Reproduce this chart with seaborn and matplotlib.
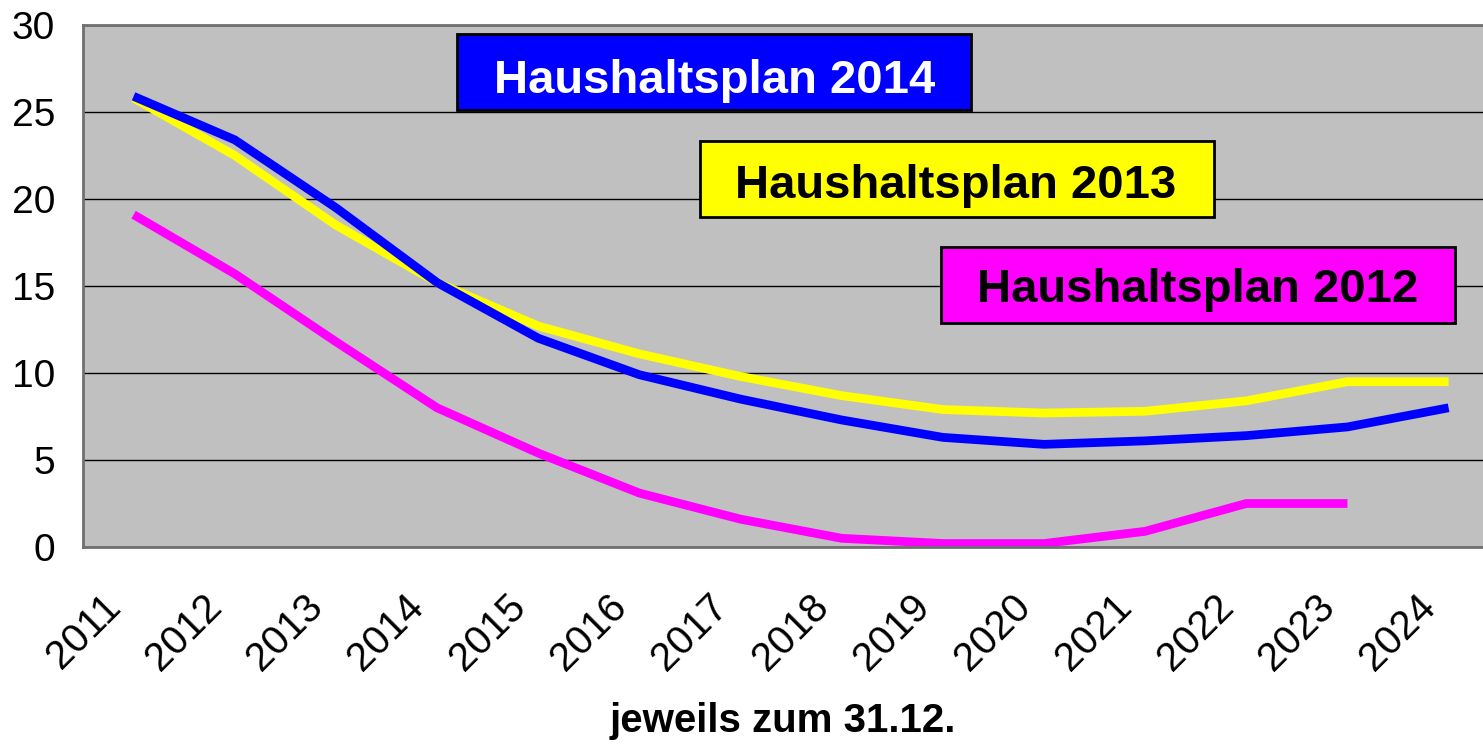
import seaborn as sns
import matplotlib.pyplot as plt
import matplotlib.patches as mpatches
from matplotlib.transforms import ScaledTranslation
import pandas as pd
import numpy as np

years = ['2011', '2012', '2013', '2014', '2015', '2016', '2017',
         '2018', '2019', '2020', '2021', '2022', '2023', '2024']
hp2014 = [25.9, 23.4, 19.5, 15.2, 12.0, 9.9, 8.5, 7.3, 6.3, 5.9, 6.1, 6.4, 6.9, 8.0]
hp2013 = [25.8, 22.5, 18.5, 15.2, 12.7, 11.1, 9.8, 8.7, 7.9, 7.7, 7.8, 8.4, 9.5, 9.5]
hp2012 = [19.1, 15.7, 11.8, 8.0, 5.4, 3.1, 1.6, 0.5, 0.2, 0.2, 0.9, 2.5, 2.5, np.nan]

plans = ['Haushaltsplan 2012', 'Haushaltsplan 2013', 'Haushaltsplan 2014']
colors = ['#FF00FF', '#FFFF00', '#0000FF']

rows = []
for name, vals in zip(plans, [hp2012, hp2013, hp2014]):
    for i, v in enumerate(vals):
        if not np.isnan(v):
            rows.append({'pos': i, 'wert': v, 'plan': name})
df = pd.DataFrame(rows)

sns.set_style('white')
plt.rcParams['font.family'] = ['Liberation Sans', 'DejaVu Sans']
plt.rcParams['text.color'] = 'black'
plt.rcParams['axes.labelcolor'] = 'black'
plt.rcParams['xtick.color'] = 'black'
plt.rcParams['ytick.color'] = 'black'

fig = plt.figure(figsize=(14.83, 7.45), dpi=100)
ax = fig.add_axes([83 / 1483, 198 / 745, 1400 / 1483, 522 / 745])
ax.set_facecolor('#C0C0C0')

sns.lineplot(data=df, x='pos', y='wert', hue='plan', hue_order=plans,
             palette=colors, linewidth=6.3, sort=False, legend=False, ax=ax,
             solid_capstyle='butt', solid_joinstyle='miter')

ax.set_xlim(-0.5, 13.34)
ax.set_ylim(0, 30)
ax.set_yticks(range(0, 31, 5))
ax.yaxis.grid(True, color='black', linewidth=1.0)
ax.set_axisbelow(True)

# labels at category centres, tick marks at the boundaries
ax.set_xticks(range(len(years)))
ax.set_xticklabels(years, rotation=45, ha='right', va='center',
                   rotation_mode='anchor', fontsize=29, color='black')
ax.tick_params(axis='x', which='major', length=0, pad=39)
shift = ScaledTranslation(-19 / 100, 0, fig.dpi_scale_trans)
for lab in ax.get_xticklabels():
    lab.set_transform(lab.get_transform() + shift)
ax.set_xticks(np.arange(-0.5, 13, 1), minor=True)
ax.tick_params(axis='x', which='minor', length=9, width=1.5, color='#606060', direction='out')
ax.tick_params(axis='y', labelsize=28, labelcolor='black', length=8, width=1.5,
               color='#606060', pad=12, direction='out')

for side in ['left', 'bottom', 'top']:
    ax.spines[side].set_color('#707070')
    ax.spines[side].set_linewidth(2)
ax.spines['right'].set_visible(False)

ax.set_xlabel('jeweils zum 31.12.', fontsize=29, fontweight='bold', color='black', labelpad=17)
ax.set_ylabel('')

boxes = [
    ('Haushaltsplan 2014', '#0000FF', 'white', 0.267, 0.837, 0.870, 0.451),
    ('Haushaltsplan 2013', '#FFFF00', 'black', 0.4407, 0.632, 0.6686, 0.6236),
    ('Haushaltsplan 2012', '#FF00FF', 'black', 0.613, 0.429, 0.469, 0.7964),
]
for label, fc, tc, x0, y0, yb, xc in boxes:
    ax.add_patch(mpatches.Rectangle((x0, y0), 0.367, 0.146, transform=ax.transAxes,
                                    facecolor=fc, edgecolor='black', linewidth=2, zorder=5))
    ax.text(xc, yb, label, transform=ax.transAxes, ha='center', va='baseline',
            fontsize=34, fontweight='bold', color=tc, zorder=6)

fig.savefig('out.png', dpi=100)
